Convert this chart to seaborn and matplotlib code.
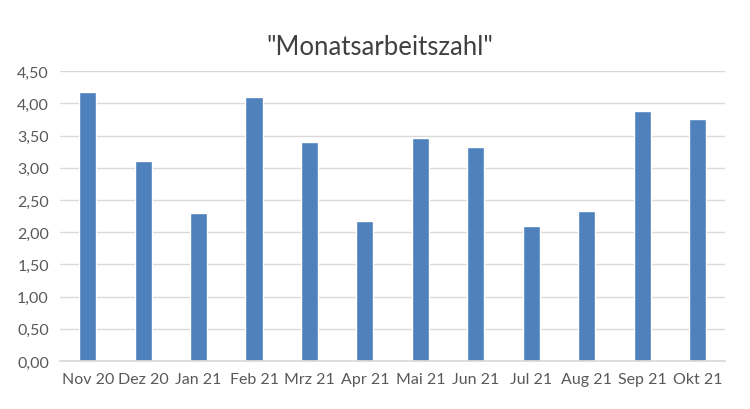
import matplotlib
matplotlib.use("Agg")
import matplotlib.pyplot as plt
import seaborn as sns
import pandas as pd
from matplotlib.ticker import FuncFormatter, MultipleLocator

categories = ["Nov 20", "Dez 20", "Jan 21", "Feb 21", "Mrz 21", "Apr 21",
              "Mai 21", "Jun 21", "Jul 21", "Aug 21", "Sep 21", "Okt 21"]
values = [4.18, 3.10, 2.30, 4.10, 3.40, 2.17, 3.47, 3.33, 2.10, 2.33, 3.88, 3.75]
title = '"Monatsarbeitszahl"'

sns.set_theme(style="white")
plt.rcParams['font.family'] = ['Lato', 'DejaVu Sans']

df = pd.DataFrame({"Monat": categories, "Wert": values})

fig = plt.figure(figsize=(7.5, 4.1), dpi=100)
ax = fig.add_axes([0.08, 0.117, 0.887, 0.707])
sns.barplot(data=df, x="Monat", y="Wert", color="#4F81BD", saturation=1,
            width=0.31, ax=ax, zorder=3)

ax.set_ylim(0, 4.5)
ax.set_xlim(-0.5, len(categories) - 0.5)
ax.yaxis.set_major_locator(MultipleLocator(0.5))
ax.yaxis.set_major_formatter(FuncFormatter(lambda v, p: f"{v:.2f}".replace(".", ",")))
ax.grid(axis="y", color="#D9D9D9", linewidth=1, zorder=0)
for s in ["top", "right", "left"]:
    ax.spines[s].set_visible(False)
ax.spines["bottom"].set_color("#D9D9D9")
ax.spines["bottom"].set_zorder(4)
ax.tick_params(axis="both", length=0, labelsize=11.5, labelcolor="#595959")
ax.tick_params(axis="x", pad=8)
ax.tick_params(axis="y", pad=8)
ax.set_xlabel("")
ax.set_ylabel("")
fig.suptitle(title, x=0.507, y=0.915, fontsize=18.5, color="#404040")

fig.savefig("out.png", dpi=100)
